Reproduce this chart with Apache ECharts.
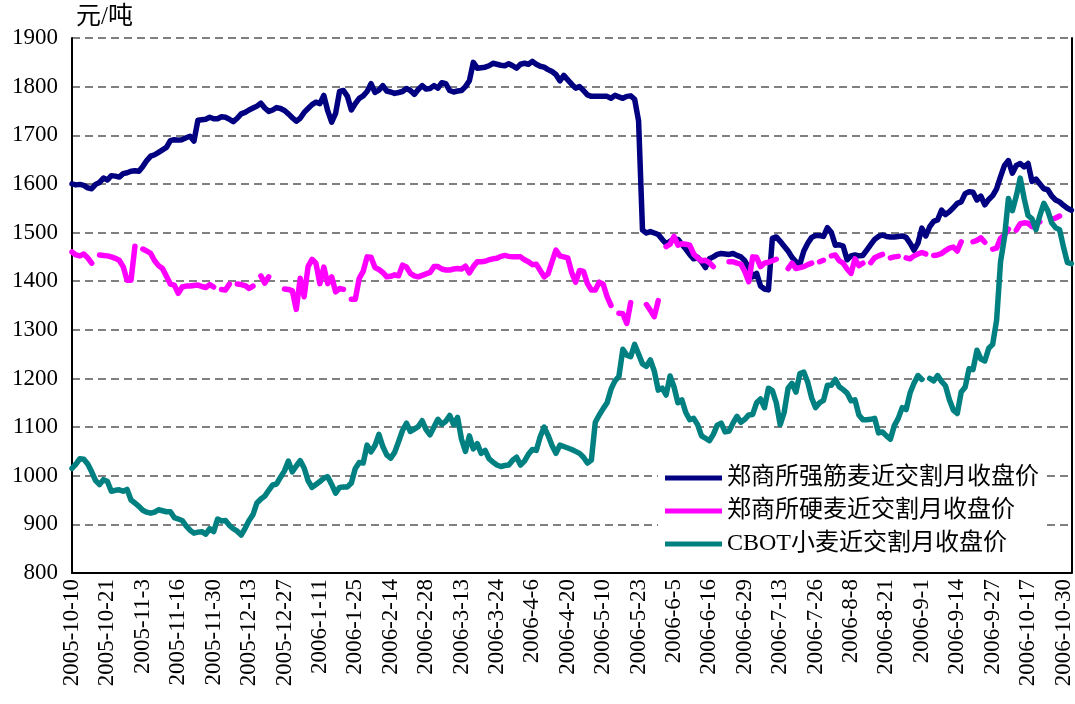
<!DOCTYPE html>
<html>
<head>
<meta charset="utf-8">
<script src="https://cdn.jsdelivr.net/npm/echarts@6/dist/echarts.min.js"></script>
<style>
html,body{margin:0;padding:0;background:#fff;}
#chart{width:1075px;height:704px;}
</style>
</head>
<body>
<div id="chart"></div>
<script>
// Tick labels shown on the x axis (every 9th trading day)
const tickLabels = ['2005-10-10','2005-10-21','2005-11-3','2005-11-16','2005-11-30','2005-12-13','2005-12-27','2006-1-11','2006-1-25','2006-2-14','2006-2-28','2006-3-13','2006-3-24','2006-4-6','2006-4-20','2006-5-10','2006-5-23','2006-6-5','2006-6-16','2006-6-29','2006-7-13','2006-7-26','2006-8-8','2006-8-21','2006-9-1','2006-9-14','2006-9-27','2006-10-17','2006-10-30'];
const tickStep = 9;

const seriesNames = ['郑商所强筋麦近交割月收盘价','郑商所硬麦近交割月收盘价','CBOT小麦近交割月收盘价'];
const seriesColors = ['#000080','#FF00FF','#008080'];

// 郑商所强筋麦近交割月收盘价
const strongWheat = [1600,1598,1599,1597,1592,1590,1599,1603,1612,1608,
1617,1616,1614,1621,1623,1626,1627,1626,1636,1648,
1657,1660,1665,1670,1675,1689,1691,1690,1691,1695,
1698,1688,1731,1732,1733,1737,1734,1734,1738,1737,
1733,1728,1735,1744,1747,1752,1756,1760,1766,1756,
1749,1752,1757,1755,1751,1744,1736,1729,1735,1747,
1755,1763,1768,1765,1782,1750,1727,1745,1790,1792,
1780,1752,1765,1776,1781,1790,1806,1788,1793,1802,
1791,1789,1786,1788,1790,1796,1792,1784,1794,1802,
1795,1796,1802,1797,1808,1806,1792,1789,1791,1792,
1800,1812,1850,1838,1839,1840,1843,1848,1846,1844,
1843,1847,1843,1838,1846,1848,1846,1852,1846,1842,
1840,1835,1831,1825,1812,1823,1814,1805,1797,1800,
1792,1783,1780,1780,1780,1780,1780,1776,1782,1779,
1776,1780,1781,1774,1730,1505,1499,1502,1499,1496,
1486,1477,1482,1487,1486,1476,1466,1455,1446,1449,
1440,1428,1446,1450,1455,1457,1456,1455,1457,1453,
1450,1442,1428,1409,1416,1390,1384,1382,1488,1491,
1482,1472,1462,1449,1440,1435,1462,1478,1490,1494,
1494,1492,1510,1500,1474,1475,1472,1444,1452,1454,
1452,1453,1464,1475,1486,1492,1495,1492,1491,1491,
1492,1493,1490,1478,1464,1478,1509,1493,1512,1523,
1526,1546,1537,1543,1551,1560,1563,1580,1584,1583,
1567,1575,1557,1568,1576,1590,1615,1638,1648,1622,
1638,1642,1635,1642,1605,1610,1600,1590,1588,1575,
1567,1563,1556,1550,1546];

// 郑商所硬麦近交割月收盘价 (null = no quote)
const hardWheat = [1460,1454,1452,1456,1448,1437,null,1454,1453,1452,
1450,1447,1443,1430,1402,1402,1472,null,1466,1462,
1457,1442,1432,1426,1410,1394,1392,1375,1388,1390,
1390,1391,1392,1389,1387,1393,1388,null,1383,1382,
1394,null,1394,1393,1391,1385,1390,null,1411,1396,
1409,null,null,null,1384,1383,1380,1342,1406,1368,
1430,1445,1437,1395,1429,1395,1409,1378,1385,1383,
null,1363,1363,1406,1420,1450,1449,1428,1424,1418,
1409,1410,1413,1411,1433,1429,1416,1411,1409,1412,
1415,1418,1430,1430,1425,1423,1423,1425,1426,1425,
1431,1417,1430,1440,1440,1441,1444,1446,1447,1451,
1453,1451,1450,1450,1450,1444,1440,1434,1435,1422,
1409,1415,1440,1464,1452,1450,1448,1418,1398,1422,
1420,1395,1382,1382,1398,1394,1368,1350,null,1334,
1333,1313,1356,null,null,null,1352,1340,1327,1360,
null,1471,1476,1492,1474,1477,1476,1474,1456,1448,
1442,1443,1438,1430,null,null,null,1440,1440,1437,
1435,1420,1399,1450,1449,1430,1437,1439,1442,1445,
null,null,1426,1437,1426,1428,1430,1434,1437,null,
1440,1443,null,1452,1454,1442,1437,1425,1416,1446,
1432,1437,null,1438,1448,1452,1455,null,1448,1450,
1451,null,1448,1446,1452,1456,1459,1456,null,1453,
1454,1457,1463,1468,1470,1462,1481,null,null,1481,
1484,1489,1480,null,1466,1468,1488,1495,1507,null,
1505,1518,1520,1519,1512,1518,1522,null,null,1527,
1530,1534,null,null,null];

// CBOT小麦近交割月收盘价 (折合元/吨)
const cbotWheat = [1015,1024,1035,1034,1024,1008,990,982,992,988,
968,970,971,968,972,950,944,937,929,925,
923,925,930,928,926,926,914,911,908,897,
888,882,884,885,880,891,885,911,907,908,
898,891,886,878,892,908,920,944,952,958,
970,981,983,997,1010,1030,1008,1020,1031,1016,
990,976,982,988,995,998,982,964,976,977,
977,985,1015,1027,1026,1063,1049,1062,1085,1060,
1043,1036,1048,1070,1093,1108,1091,1096,1101,1113,
1095,1084,1100,1116,1106,1112,1124,1105,1120,1075,
1050,1082,1055,1066,1046,1052,1035,1028,1022,1019,
1021,1022,1032,1038,1022,1030,1044,1054,1052,1080,
1100,1083,1062,1046,1063,1060,1057,1054,1050,1046,
1038,1026,1032,1110,1125,1138,1150,1178,1195,1204,
1260,1248,1245,1270,1250,1230,1225,1238,1215,1176,
1180,1166,1205,1183,1150,1156,1130,1115,1118,1105,
1082,1077,1072,1085,1104,1108,1090,1092,1108,1122,
1110,1116,1125,1126,1150,1158,1140,1180,1175,1150,
1105,1130,1180,1190,1172,1210,1213,1192,1160,1140,
1150,1155,1186,1186,1198,1183,1177,1170,1154,1156,
1125,1115,1115,1116,1118,1088,1090,1082,1075,1103,
1118,1140,1136,1170,1190,1206,1198,null,1200,1195,
1206,1194,1185,1156,1135,1128,1172,1182,1220,1218,
1258,1240,1236,1262,1270,1320,1440,1490,1570,1545,
1575,1612,1570,1535,1528,1506,1535,1560,1545,1520,
1510,1506,1470,1438,1436];

// one category per trading day
const categories = strongWheat.map((_, i) => String(i));

const serif = "'Liberation Serif','Noto Sans CJK SC'";
const chart = echarts.init(document.getElementById('chart'), null, {renderer:'canvas'});
const allData = [strongWheat, hardWheat, cbotWheat];

chart.setOption({
  animation: false,
  backgroundColor: '#fff',
  grid: {left: 72, right: 2, top: 38, bottom: 131},
  legend: {
    orient: 'vertical', left: 658, top: 460,
    padding: [6, 8, 6, 7], backgroundColor: '#fff',
    itemWidth: 57, itemHeight: 5, itemGap: 9, icon: 'rect',
    textStyle: {fontSize: 24, fontFamily: serif, color: '#000'},
    data: seriesNames
  },
  xAxis: {
    type: 'category', boundaryGap: false, data: categories,
    axisLine: {lineStyle: {color: '#000', width: 2}},
    axisTick: {show: false},
    splitLine: {show: false},
    axisLabel: {
      interval: tickStep - 1, rotate: 90, fontSize: 23, fontFamily: serif, color: '#000', margin: 6,
      formatter: (v, idx) => (idx % tickStep === 0 && tickLabels[idx / tickStep]) ? tickLabels[idx / tickStep] : ''
    }
  },
  yAxis: [{
    type: 'value', min: 800, max: 1900, interval: 100,
    name: '元/吨', nameLocation: 'end', nameGap: 8,
    nameTextStyle: {align: 'left', fontSize: 25, fontFamily: serif, color: '#000', padding: [0, 0, 0, 4]},
    axisLine: {show: true, lineStyle: {color: '#000', width: 2}},
    axisTick: {show: false},
    axisLabel: {fontSize: 23, fontFamily: serif, color: '#000', margin: 14, formatter: v => String(v)},
    splitLine: {show: true, lineStyle: {color: '#808080', width: 2, type: [8, 5]}}
  }, {
    type: 'value', min: 800, max: 1900, interval: 100, position: 'right',
    axisLine: {show: true, lineStyle: {color: '#000', width: 2}},
    axisTick: {show: false}, axisLabel: {show: false}, splitLine: {show: false}
  }],
  series: seriesNames.map((name, k) => ({
    name: name, type: 'line', data: allData[k],
    showSymbol: false, symbol: 'none', connectNulls: false,
    color: seriesColors[k],
    lineStyle: {color: seriesColors[k], width: 5.5, cap: 'round', join: 'round'},
    z: 2 + k
  }))
});
</script>
</body>
</html>
